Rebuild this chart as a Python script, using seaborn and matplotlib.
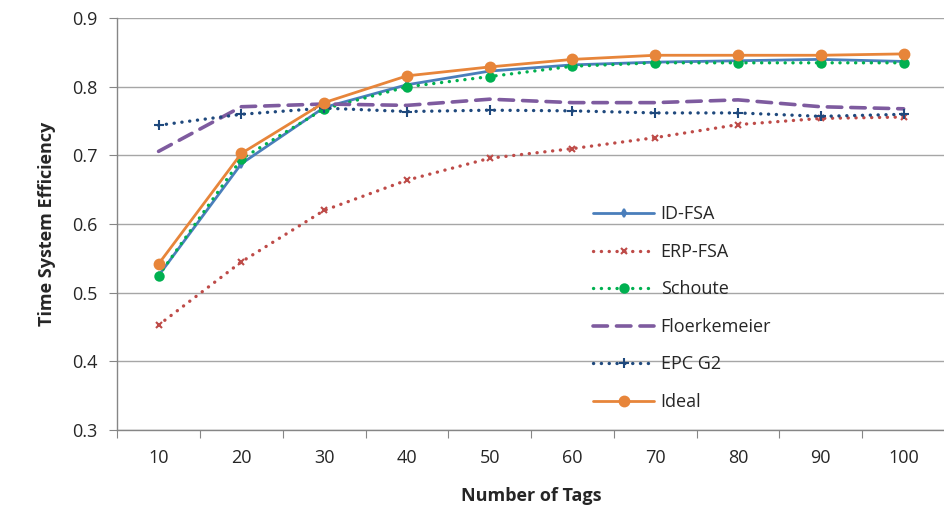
import numpy as np
import pandas as pd
import seaborn as sns
import matplotlib.pyplot as plt

#### Data
tags = [10, 20, 30, 40, 50, 60, 70, 80, 90, 100]
id_fsa = [0.525, 0.688, 0.770, 0.803, 0.823, 0.832, 0.836, 0.838, 0.840, 0.837]
erp_fsa = [0.453, 0.545, 0.620, 0.664, 0.696, 0.710, 0.726, 0.745, 0.754, 0.756]
schoute = [0.525, 0.695, 0.768, 0.800, 0.815, 0.830, 0.835, 0.835, 0.835, 0.835]
floerkemeier = [0.706, 0.771, 0.775, 0.773, 0.782, 0.777, 0.777, 0.781, 0.771, 0.768]
epc_g2 = [0.744, 0.760, 0.769, 0.764, 0.766, 0.765, 0.762, 0.762, 0.757, 0.760]
ideal = [0.542, 0.703, 0.777, 0.816, 0.829, 0.840, 0.846, 0.846, 0.846, 0.848]

dot = (0, (0.05, 2.3))
series = [
    ("ID-FSA", id_fsa, "#4A7EBB", "-", "d", 4),
    ("ERP-FSA", erp_fsa, "#BE4B48", dot, "x", 5),
    ("Schoute", schoute, "#00B050", dot, "o", 6),
    ("Floerkemeier", floerkemeier, "#7E5B9F", (0, (4, 2.5)), None, 0),
    ("EPC G2", epc_g2, "#1F497D", dot, "+", 7),
    ("Ideal", ideal, "#E7853A", "-", "o", 7),
]

#### Plot
sns.set_style("white")
plt.rcParams['font.family'] = ['Open Sans', 'DejaVu Sans']

fig = plt.figure(figsize=(9.45, 5.2), dpi=100, facecolor="white")
ax = fig.add_axes([0.124, 0.173, 0.876, 0.792])

pos = np.arange(len(tags))
for name, vals, col, ls, mk, ms in series:
    lw = 2.6 if name == "Floerkemeier" else (2.4 if ls == dot else 2.0)
    sns.lineplot(x=pos, y=vals, ax=ax, color=col, linestyle=ls, marker=mk,
                 markersize=ms, markeredgecolor=col, markeredgewidth=1.5,
                 linewidth=lw, label=name, dash_capstyle="round",
                 solid_capstyle="round")

ax.set_xlim(-0.5, len(tags) - 0.5)
ax.set_ylim(0.3, 0.9)
ax.set_yticks([0.3, 0.4, 0.5, 0.6, 0.7, 0.8, 0.9])
ax.set_yticklabels(["0.3", "0.4", "0.5", "0.6", "0.7", "0.8", "0.9"])
ax.set_xticks(pos)
ax.set_xticklabels([str(t) for t in tags])
ax.set_xticks(np.arange(-0.5, len(tags)), minor=True)
ax.tick_params(axis="x", which="major", length=0, pad=14, labelsize=13)
ax.tick_params(axis="x", which="minor", length=6, width=0.8, color="#868686", bottom=True)
ax.tick_params(axis="y", length=6, width=0.8, color="#868686", left=True, pad=8, labelsize=13)

ax.grid(axis="y", color="#A6A6A6", linewidth=1.0)
ax.set_axisbelow(True)
for s in ["top", "right"]:
    ax.spines[s].set_visible(False)
for s in ["left", "bottom"]:
    ax.spines[s].set_color("#868686")
    ax.spines[s].set_linewidth(1.0)

ax.set_xlabel("Number of Tags", fontsize=13, fontweight="bold", labelpad=14)
ax.set_ylabel("Time System Efficiency", fontsize=13, fontweight="bold", labelpad=12)

leg = ax.legend(loc="upper left", bbox_to_anchor=(0.555, 0.585), frameon=False,
                fontsize=13, handlelength=3.4, labelspacing=1.08, handletextpad=0.35)

plt.savefig("out.png", dpi=100, facecolor="white")
